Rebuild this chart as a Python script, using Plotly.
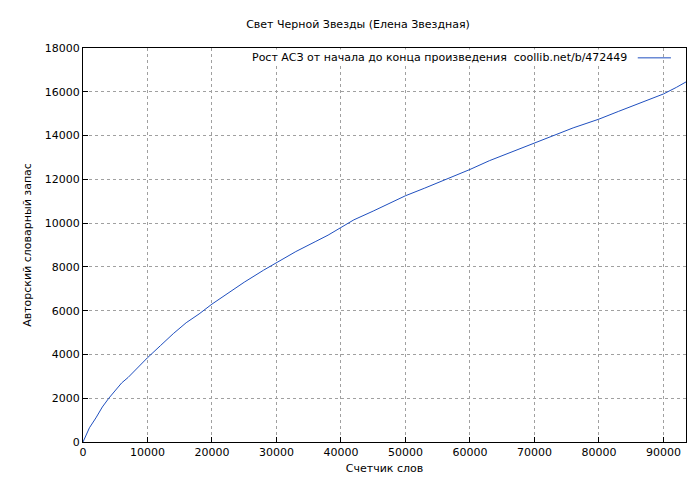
import plotly.graph_objects as go

# words counted vs. author's vocabulary
words = [0, 500, 1000, 2000, 3000, 4000, 5000, 6000, 7000, 8000, 10000, 12000, 14000,
         16000, 18000, 20000, 22000, 25000, 28000, 30000, 33000, 36000, 38000, 40000,
         42000, 45000, 48000, 50000, 53000, 56000, 58000, 60000, 63000, 66000, 68000,
         70000, 73000, 76000, 78000, 80000, 83000, 86000, 88000, 90000, 92000, 93500]
vocab = [0, 350, 650, 1100, 1600, 2000, 2350, 2700, 2950, 3250, 3850, 4400, 4950,
         5450, 5850, 6300, 6700, 7300, 7850, 8200, 8700, 9150, 9450, 9800,
         10150, 10550, 10950, 11250, 11600, 11950, 12200, 12450, 12850, 13200, 13400,
         13650, 14000, 14350, 14550, 14750, 15100, 15450, 15700, 15900, 16200, 16450]

grid = dict(showgrid=True, gridcolor="#a0a0a0", griddash="dot", gridwidth=1,
            showline=True, linecolor="black", mirror=True, ticks="inside",
            ticklen=5, tickcolor="black", zeroline=False, automargin=False,
            tickformat="d", tickfont=dict(size=11))

fig = go.Figure()
fig.add_trace(go.Scatter(x=words, y=vocab, mode="lines",
                         line=dict(color="#1f4fbf", width=1), showlegend=False))

fig.update_layout(
    width=700, height=480,
    paper_bgcolor="white", plot_bgcolor="white",
    font=dict(family="DejaVu Sans", size=11, color="black"),
    margin=dict(l=75, r=22, t=40, b=46),
    title=dict(text="Свет Черной Звезды (Елена Звездная)", x=0.5, y=0.975,
               xanchor="center", font=dict(size=11)),
    xaxis=dict(range=[0, 93500], dtick=10000,
               title=dict(text="Счетчик слов", standoff=6, font=dict(size=11)), **grid),
    yaxis=dict(range=[0, 18000], dtick=2000,
               title=dict(text="Авторский словарный запас", standoff=10, font=dict(size=11)), **grid),
)
fig.add_annotation(xref="paper", yref="paper", x=0.905, y=0.998, xanchor="right", yanchor="top",
                   text="Рост АСЗ от начала до конца произведения  coollib.net/b/472449",
                   showarrow=False, bgcolor="white")
fig.add_shape(type="line", xref="paper", yref="paper", x0=0.92, x1=0.975, y0=0.975, y1=0.975,
              line=dict(color="#1f4fbf", width=1))

fig.write_html("out.html")
